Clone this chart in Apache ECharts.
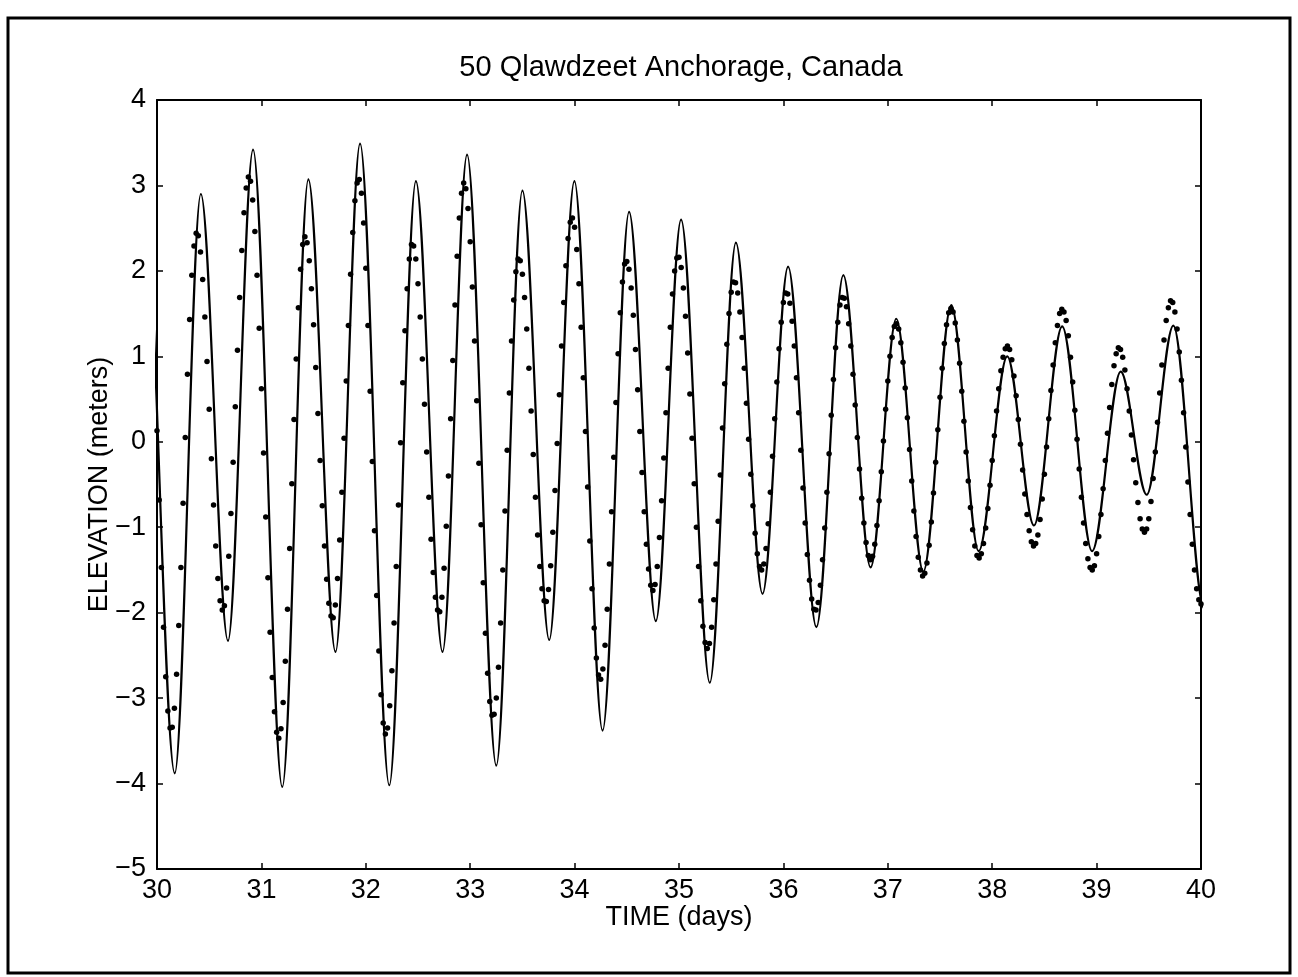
<!DOCTYPE html>
<html>
<head>
<meta charset="utf-8">
<title>50 Qlawdzeet Anchorage, Canada</title>
<script src="https://cdn.jsdelivr.net/npm/echarts@6/dist/echarts.min.js"></script>
<style>
    html, body { margin: 0; padding: 0; background: #fff; }
    #chart { width: 1298px; height: 977px; }
</style>
</head>
<body>
<div id="chart"></div>
<script>
const chartTitle = '50 Qlawdzeet Anchorage, Canada';
const xName = 'TIME (days)';
const yName = 'ELEVATION (meters)';
const xTicks = [30, 31, 32, 33, 34, 35, 36, 37, 38, 39, 40];
const yTicks = [-5, -4, -3, -2, -1, 0, 1, 2, 3, 4];

// model curve: highs and lows (the two at each end sit outside the axis)
const modelDays = [29.62, 29.88, 30.17, 30.42, 30.68, 30.92, 31.20, 31.45, 31.71, 31.945, 32.225,
    32.48, 32.735, 32.97, 33.25, 33.50, 33.757, 33.998, 34.268, 34.522, 34.778,
    35.02, 35.295, 35.545, 35.80, 36.045, 36.316, 36.574, 36.835, 37.081, 37.34,
    37.608, 37.87, 38.144, 38.40, 38.67, 38.957, 39.231, 39.48, 39.735, 40.03, 40.28];
const modelElev = [-2.3, 2.9, -3.88, 2.9, -2.33, 3.42, -4.04, 3.07, -2.46, 3.49, -4.02,
    3.05, -2.46, 3.36, -3.79, 2.94, -2.32, 3.05, -3.38, 2.69, -2.10,
    2.60, -2.82, 2.33, -1.78, 2.05, -2.17, 1.95, -1.47, 1.44, -1.52,
    1.60, -1.28, 1.00, -0.98, 1.35, -1.28, 0.82, -0.62, 1.36, -1.95, 1.3];

// observed elevations, one every half hour from day 30
const obsStartDay = 30;
const obsStepHours = 0.5;
const obsElev = [
    0.13, -0.68, -1.47, -2.17, -2.75, -3.15, -3.35, -3.34, -3.12, -2.72, -2.15, -1.47,
    -0.72, 0.05, 0.79, 1.43, 1.95, 2.29, 2.44, 2.41, 2.22, 1.90, 1.46, 0.94,
    0.38, -0.20, -0.74, -1.22, -1.60, -1.86, -1.97, -1.92, -1.71, -1.34, -0.84, -0.24,
    0.41, 1.07, 1.69, 2.24, 2.68, 2.97, 3.10, 3.05, 2.83, 2.46, 1.95, 1.33,
    0.62, -0.13, -0.88, -1.59, -2.23, -2.76, -3.16, -3.40, -3.47, -3.36, -3.05, -2.57,
    -1.96, -1.25, -0.49, 0.26, 0.97, 1.57, 2.02, 2.31, 2.40, 2.33, 2.12, 1.79,
    1.37, 0.87, 0.33, -0.22, -0.75, -1.22, -1.61, -1.89, -2.04, -2.06, -1.91, -1.60,
    -1.15, -0.59, 0.04, 0.71, 1.36, 1.96, 2.45, 2.82, 3.03, 3.07, 2.91, 2.56,
    2.03, 1.36, 0.59, -0.23, -1.04, -1.80, -2.45, -2.96, -3.29, -3.42, -3.35, -3.09,
    -2.68, -2.12, -1.46, -0.74, -0.01, 0.69, 1.30, 1.79, 2.14, 2.31, 2.29, 2.14,
    1.85, 1.46, 0.97, 0.44, -0.12, -0.65, -1.14, -1.53, -1.82, -1.97, -1.99, -1.82,
    -1.48, -0.99, -0.40, 0.27, 0.95, 1.60, 2.17, 2.62, 2.91, 3.03, 2.96, 2.73,
    2.34, 1.81, 1.18, 0.48, -0.25, -0.97, -1.65, -2.24, -2.71, -3.04, -3.20, -3.19,
    -3.00, -2.64, -2.12, -1.50, -0.81, -0.10, 0.57, 1.18, 1.66, 1.99, 2.14, 2.12,
    1.96, 1.69, 1.32, 0.86, 0.36, -0.15, -0.65, -1.09, -1.46, -1.72, -1.86, -1.87,
    -1.73, -1.45, -1.06, -0.57, -0.02, 0.55, 1.12, 1.63, 2.06, 2.38, 2.57, 2.62,
    2.51, 2.25, 1.85, 1.34, 0.75, 0.12, -0.53, -1.16, -1.72, -2.18, -2.53, -2.73,
    -2.78, -2.66, -2.38, -1.96, -1.43, -0.82, -0.18, 0.46, 1.03, 1.51, 1.87, 2.08,
    2.11, 2.02, 1.80, 1.48, 1.08, 0.61, 0.12, -0.36, -0.82, -1.20, -1.49, -1.68,
    -1.74, -1.67, -1.46, -1.12, -0.69, -0.19, 0.34, 0.86, 1.34, 1.73, 2.00, 2.15,
    2.16, 2.04, 1.80, 1.47, 1.04, 0.56, 0.04, -0.49, -1.00, -1.46, -1.86, -2.16,
    -2.35, -2.42, -2.36, -2.17, -1.85, -1.43, -0.93, -0.39, 0.16, 0.68, 1.14, 1.50,
    1.75, 1.87, 1.86, 1.74, 1.52, 1.22, 0.86, 0.45, 0.03, -0.38, -0.75, -1.07,
    -1.31, -1.46, -1.50, -1.43, -1.25, -0.96, -0.59, -0.17, 0.27, 0.70, 1.09, 1.40,
    1.63, 1.74, 1.73, 1.62, 1.41, 1.12, 0.75, 0.34, -0.10, -0.54, -0.95, -1.32,
    -1.62, -1.84, -1.96, -1.97, -1.88, -1.68, -1.38, -1.01, -0.59, -0.14, 0.31, 0.73,
    1.10, 1.40, 1.60, 1.69, 1.68, 1.58, 1.38, 1.12, 0.79, 0.43, 0.05, -0.32,
    -0.66, -0.95, -1.18, -1.33, -1.38, -1.34, -1.20, -0.98, -0.69, -0.35, 0.01, 0.38,
    0.71, 1.00, 1.22, 1.35, 1.38, 1.32, 1.16, 0.93, 0.63, 0.28, -0.09, -0.46,
    -0.81, -1.11, -1.35, -1.50, -1.57, -1.54, -1.42, -1.21, -0.94, -0.60, -0.24, 0.14,
    0.52, 0.86, 1.15, 1.37, 1.51, 1.56, 1.52, 1.39, 1.19, 0.92, 0.59, 0.24,
    -0.12, -0.46, -0.77, -1.03, -1.22, -1.33, -1.36, -1.31, -1.19, -1.01, -0.78, -0.51,
    -0.22, 0.07, 0.36, 0.62, 0.83, 0.99, 1.09, 1.12, 1.08, 0.96, 0.77, 0.54,
    0.26, -0.03, -0.33, -0.61, -0.85, -1.04, -1.17, -1.22, -1.19, -1.09, -0.91, -0.67,
    -0.38, -0.06, 0.27, 0.60, 0.90, 1.16, 1.36, 1.50, 1.55, 1.52, 1.42, 1.24,
    0.99, 0.70, 0.37, 0.03, -0.32, -0.65, -0.95, -1.19, -1.37, -1.47, -1.50, -1.45,
    -1.31, -1.11, -0.85, -0.55, -0.22, 0.10, 0.40, 0.67, 0.89, 1.03, 1.10, 1.08,
    0.99, 0.84, 0.62, 0.36, 0.08, -0.21, -0.48, -0.71, -0.90, -1.02, -1.06, -1.02,
    -0.90, -0.70, -0.43, -0.12, 0.23, 0.57, 0.90, 1.19, 1.42, 1.57, 1.65, 1.63,
    1.52, 1.32, 1.05, 0.72, 0.34, -0.06, -0.47, -0.85, -1.20, -1.50, -1.72, -1.85,
    -1.90
];

const font = '"Liberation Sans", Arial, Helvetica, sans-serif';
const fontSize = 27;
const minus = v => String(v).replace('-', '\u2212');

const modelData = modelDays.map((d, i) => [d, modelElev[i]]);
const obsData = obsElev.map((v, i) => [obsStartDay + i * obsStepHours / 24, v]);

function axisBase(ticks, position, labels, margin) {
    return {
        type: 'value',
        position: position,
        min: ticks[0],
        max: ticks[ticks.length - 1],
        interval: 1,
        axisLine: {show: true, onZero: false, lineStyle: {color: '#000', width: 2}},
        axisTick: {show: true, inside: true, length: 6, lineStyle: {color: '#000', width: 1.5}},
        splitLine: {show: false},
        axisLabel: {
            show: labels,
            color: '#000',
            fontFamily: font,
            fontSize: fontSize,
            margin: margin,
            formatter: minus
        }
    };
}

const chart = echarts.init(document.getElementById('chart'));

chart.setOption({
    backgroundColor: '#fff',
    animation: false,
    title: {
        text: chartTitle,
        left: 676,
        top: 48,
        textAlign: 'center',
        textStyle: {color: '#000', fontFamily: font, fontSize: 29, fontWeight: 'normal'}
    },
    grid: {left: 157, right: 97, top: 100, bottom: 108},
    xAxis: [
        Object.assign(axisBase(xTicks, 'bottom', true, 8), {
            name: xName,
            nameLocation: 'middle',
            nameGap: 35,
            nameMoveOverlap: false,
            nameTextStyle: {color: '#000', fontFamily: font, fontSize: fontSize}
        }),
        axisBase(xTicks, 'top', false, 8)
    ],
    yAxis: [
        Object.assign(axisBase(yTicks, 'left', true, 11), {
            name: yName,
            nameLocation: 'middle',
            nameGap: 44,
            nameMoveOverlap: false,
            nameTextStyle: {color: '#000', fontFamily: font, fontSize: fontSize}
        }),
        axisBase(yTicks, 'right', false, 8)
    ],
    graphic: [{
        type: 'rect',
        silent: true,
        shape: {x: 8, y: 18, width: 1282, height: 955},
        style: {fill: null, stroke: '#000', lineWidth: 3}
    }],
    series: [
        {
            type: 'line',
            data: modelData,
            smooth: 0.33,
            smoothMonotone: 'x',
            showSymbol: false,
            clip: true,
            lineStyle: {color: '#000', width: 2.2}
        },
        {
            type: 'scatter',
            data: obsData,
            symbol: 'circle',
            symbolSize: 5.5,
            itemStyle: {color: '#000', opacity: 1}
        }
    ]
});
</script>
</body>
</html>
